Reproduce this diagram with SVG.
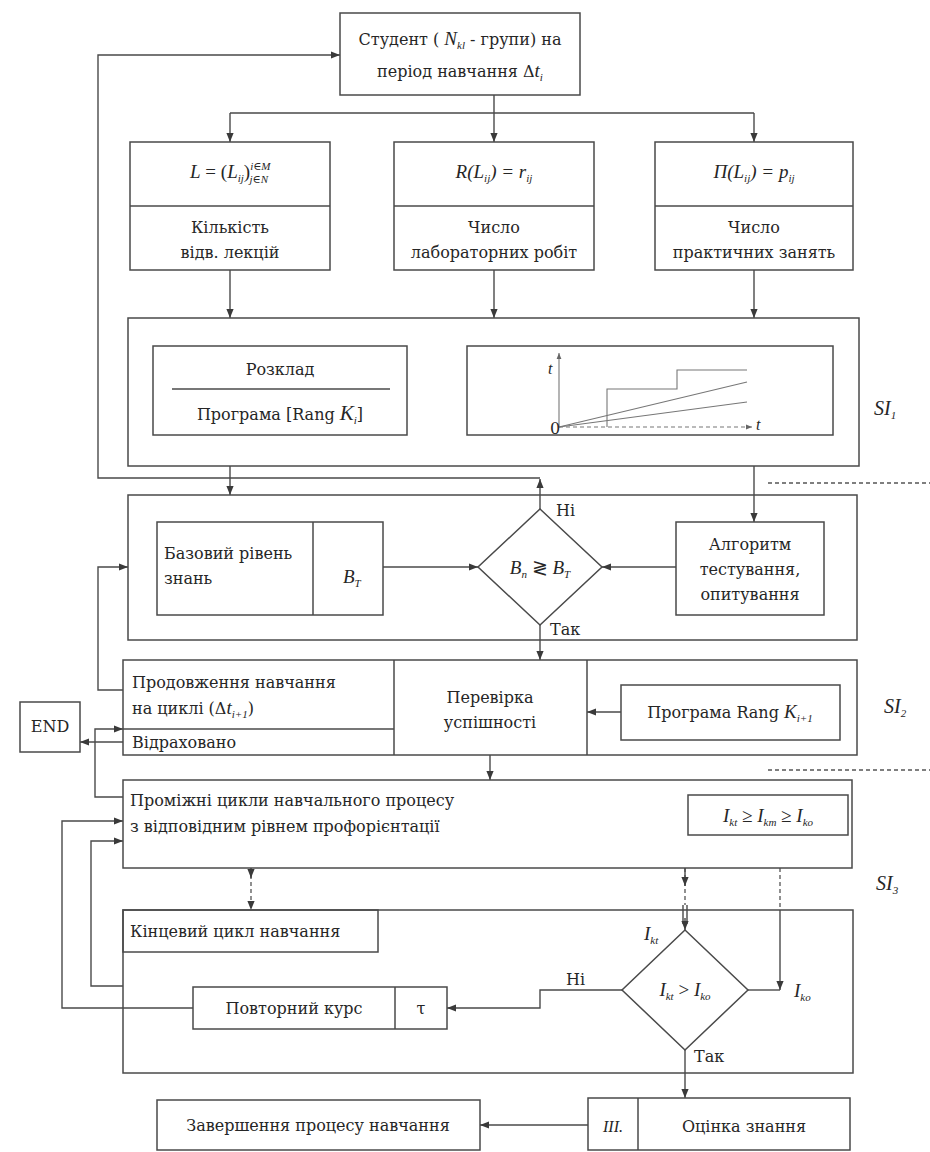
<svg xmlns="http://www.w3.org/2000/svg" width="930" height="1152" viewBox="0 0 930 1152">
<style>
text{font-family:"DejaVu Serif","Liberation Serif",serif;font-size:16px;fill:#262626}
.m,.i,.s,.si{font-family:"Liberation Serif","DejaVu Serif",serif}
.m{font-size:19px}
.i{font-style:italic}
.s{font-size:11px;font-style:italic}
.b{fill:none;stroke:#4a4a4a;stroke-width:1.5}
.c{fill:none;stroke:#4a4a4a;stroke-width:1.4}
.d{fill:none;stroke:#555;stroke-width:1.3;stroke-dasharray:4 3}
.th{fill:none;stroke:#777;stroke-width:1.1}
.si{font-size:20px;font-style:italic}
</style>
<defs>
<marker id="ah" viewBox="0 0 10 10" refX="10" refY="5" markerWidth="9" markerHeight="9" markerUnits="userSpaceOnUse" orient="auto"><path d="M0,1 L10,5 L0,9 z" fill="#3a3a3a"/></marker>
<marker id="as" viewBox="0 0 10 10" refX="10" refY="5" markerWidth="6" markerHeight="6" markerUnits="userSpaceOnUse" orient="auto"><path d="M0,1 L10,5 L0,9 z" fill="#666"/></marker>
</defs>
<rect width="930" height="1152" fill="#ffffff"/>

<g id="connectors">
<path class="c" d="M494,95 V113 M230,113 H754"/>
<path class="c" d="M230,113 V142" marker-end="url(#ah)"/>
<path class="c" d="M494,113 V142" marker-end="url(#ah)"/>
<path class="c" d="M754,113 V142" marker-end="url(#ah)"/>
<path class="c" d="M230,270 V318" marker-end="url(#ah)"/>
<path class="c" d="M494,270 V318" marker-end="url(#ah)"/>
<path class="c" d="M754,270 V318" marker-end="url(#ah)"/>
<path class="c" d="M540,509 V479" marker-end="url(#ah)"/>
<path class="c" d="M540,478 H98 V55 H340" marker-end="url(#ah)"/>
<path class="c" d="M230,466 V495" marker-end="url(#ah)"/>
<path class="c" d="M754,466 V522" marker-end="url(#ah)"/>
<path class="c" d="M383,567 H478" marker-end="url(#ah)"/>
<path class="c" d="M676,567 H602" marker-end="url(#ah)"/>
<path class="c" d="M540,625 V660" marker-end="url(#ah)"/>
<path class="c" d="M123,690 H98 V567 H128" marker-end="url(#ah)"/>
<path class="c" d="M621,712 H587" marker-end="url(#ah)"/>
<path class="c" d="M123,742 H80" marker-end="url(#ah)"/>
<path class="c" d="M123,797 H95 V729 H123" marker-end="url(#ah)"/>
<path class="c" d="M490,755 V780" marker-end="url(#ah)"/>
<path class="c" d="M193,1008 H62 V821 H123" marker-end="url(#ah)"/>
<path class="c" d="M123,986 H91 V841 H123" marker-end="url(#ah)"/>
<path class="d" d="M251,868 V910" marker-end="url(#ah)"/>
<path class="c" d="M251,868 V878" marker-end="url(#ah)"/>
<path class="d" d="M685,868 V905"/>
<path class="c" d="M685,868 V886" marker-end="url(#ah)"/>
<path class="c" d="M683,905 V924 M687,905 V924"/>
<path class="c" d="M685,918 V930" marker-end="url(#ah)"/>
<path class="d" d="M780,868 V910"/>
<path class="c" d="M780,910 V990" marker-end="url(#ah)"/>
<path class="c" d="M748,990 H780"/>
<path class="c" d="M622,990 H540 V1008 H447" marker-end="url(#ah)"/>
<path class="c" d="M685,1050 V1098" marker-end="url(#ah)"/>
<path class="c" d="M588,1125 H480" marker-end="url(#ah)"/>
<path class="d" d="M768,483 H930 M768,770 H930"/>
</g>

<g id="student">
<rect class="b" x="340" y="13" width="240" height="82"/>
<text x="460" y="45" text-anchor="middle">Студент ( <tspan class="i" font-size="19">N</tspan><tspan class="s" dy="4">kl</tspan><tspan dy="-4"> - групи) на</tspan></text>
<text x="460" y="77" text-anchor="middle">період навчання Δ<tspan class="i" font-size="19">t</tspan><tspan class="s" dy="4">i</tspan></text>
</g>

<g id="lectures">
<rect class="b" x="130" y="142" width="200" height="128"/>
<line class="b" x1="130" y1="206" x2="330" y2="206"/>
<text class="m" x="190" y="178"><tspan class="i">L</tspan> = (<tspan class="i">L</tspan><tspan class="s" dy="4">ij</tspan><tspan dy="-4">)</tspan><tspan class="s" dy="-8">i∈M</tspan><tspan class="s" dx="-21" dy="13">j∈N</tspan></text>
<text x="230" y="233" text-anchor="middle">Кількість</text>
<text x="230" y="258" text-anchor="middle">відв. лекцій</text>
</g>

<g id="labs">
<rect class="b" x="394" y="142" width="200" height="128"/>
<line class="b" x1="394" y1="206" x2="594" y2="206"/>
<text class="m i" x="494" y="178" text-anchor="middle">R(L<tspan class="s" dy="4">ij</tspan><tspan dy="-4">) = r</tspan><tspan class="s" dy="4">ij</tspan></text>
<text x="494" y="233" text-anchor="middle">Число</text>
<text x="494" y="258" text-anchor="middle">лабораторних робіт</text>
</g>

<g id="practice">
<rect class="b" x="655" y="142" width="198" height="128"/>
<line class="b" x1="655" y1="206" x2="853" y2="206"/>
<text class="m i" x="754" y="178" text-anchor="middle">П(L<tspan class="s" dy="4">ij</tspan><tspan dy="-4">) = p</tspan><tspan class="s" dy="4">ij</tspan></text>
<text x="754" y="233" text-anchor="middle">Число</text>
<text x="754" y="258" text-anchor="middle">практичних занять</text>
</g>

<g id="si1">
<rect class="b" x="128" y="318" width="731" height="148"/>
<rect class="b" x="153" y="346" width="254" height="89"/>
<text x="280" y="375" text-anchor="middle" font-size="19">Розклад</text>
<line class="b" x1="172" y1="389" x2="390" y2="389"/>
<text x="280" y="420" text-anchor="middle" font-size="19">Програма [Rang <tspan class="i" font-size="21">K</tspan><tspan class="s" dy="4">i</tspan><tspan dy="-4">]</tspan></text>
<rect class="b" x="467" y="346" width="366" height="89"/>
<line class="th" x1="559" y1="427" x2="559" y2="353" marker-end="url(#as)"/>
<line class="th" x1="559" y1="427" x2="752" y2="427" stroke-dasharray="4 3" marker-end="url(#as)"/>
<path class="th" d="M607,427 V389 H677 V370 H747"/>
<line class="th" x1="559" y1="427" x2="747" y2="382"/>
<line class="th" x1="559" y1="427" x2="747" y2="402"/>
<text x="548" y="374" font-size="8" class="i">t</text>
<text x="550" y="434" font-size="7">0</text>
<text x="756" y="430" font-size="7" class="i">t</text>
<text x="874" y="415" class="si">SI<tspan class="s" dy="4">1</tspan></text>
</g>

<g id="check1">
<rect class="b" x="128" y="495" width="729" height="145"/>
<rect class="b" x="157" y="522" width="226" height="93"/>
<line class="b" x1="313" y1="522" x2="313" y2="615"/>
<text x="164" y="559" font-size="15">Базовий рівень</text>
<text x="164" y="584" font-size="15">знань</text>
<text class="m i" x="343" y="583">B<tspan class="s" dy="4">T</tspan></text>
<path class="b" d="M540,509 L602,567 L540,625 L478,567 Z"/>
<text class="m i" x="540" y="574" text-anchor="middle">B<tspan class="s" dy="4">n</tspan><tspan dy="-4" font-style="normal"> ≷ </tspan>B<tspan class="s" dy="4">T</tspan></text>
<text x="556" y="516">Ні</text>
<text x="550" y="635">Так</text>
<rect class="b" x="676" y="522" width="148" height="93"/>
<text x="750" y="550" text-anchor="middle" font-size="15">Алгоритм</text>
<text x="750" y="575" text-anchor="middle" font-size="15">тестування,</text>
<text x="750" y="600" text-anchor="middle" font-size="15">опитування</text>
</g>

<g id="si2">
<rect class="b" x="123" y="660" width="734" height="95"/>
<line class="b" x1="394" y1="660" x2="394" y2="755"/>
<line class="b" x1="587" y1="660" x2="587" y2="755"/>
<line class="b" x1="123" y1="729" x2="394" y2="729"/>
<text x="132" y="688">Продовження навчання</text>
<text x="132" y="714">на циклі (Δ<tspan class="i" font-size="19">t</tspan><tspan class="s" dy="4">i+1</tspan><tspan dy="-4">)</tspan></text>
<text x="132" y="748">Відраховано</text>
<text x="490" y="703" text-anchor="middle">Перевірка</text>
<text x="490" y="728" text-anchor="middle">успішності</text>
<rect class="b" x="621" y="685" width="219" height="55"/>
<text x="730" y="718" text-anchor="middle">Програма Rang <tspan class="i" font-size="19">K</tspan><tspan class="s" dy="4">i+1</tspan></text>
<text x="884" y="713" class="si">SI<tspan class="s" dy="4">2</tspan></text>
</g>

<g id="end">
<rect class="b" x="20" y="702" width="60" height="50"/>
<text x="50" y="732" text-anchor="middle" font-size="15">END</text>
</g>

<g id="intermediate">
<rect class="b" x="123" y="780" width="729" height="88"/>
<text x="130" y="806">Проміжні цикли навчального процесу</text>
<text x="130" y="832">з відповідним рівнем профорієнтації</text>
<rect class="b" x="688" y="795" width="160" height="40"/>
<text class="m i" x="768" y="822" text-anchor="middle">I<tspan class="s" dy="4">kt</tspan><tspan dy="-4" font-style="normal"> ≥ </tspan>I<tspan class="s" dy="4">km</tspan><tspan dy="-4" font-style="normal"> ≥ </tspan>I<tspan class="s" dy="4">ko</tspan></text>
<text x="876" y="890" class="si">SI<tspan class="s" dy="4">3</tspan></text>
</g>

<g id="final">
<rect class="b" x="123" y="910" width="730" height="163"/>
<rect class="b" x="123" y="910" width="255" height="42"/>
<text x="130" y="937">Кінцевий цикл навчання</text>
<path class="b" d="M685,930 L748,990 L685,1050 L622,990 Z"/>
<text class="m i" x="685" y="996" text-anchor="middle">I<tspan class="s" dy="4">kt</tspan><tspan dy="-4" font-style="normal"> &gt; </tspan>I<tspan class="s" dy="4">ko</tspan></text>
<text class="m i" x="644" y="940">I<tspan class="s" dy="4">kt</tspan></text>
<text class="m i" x="794" y="997">I<tspan class="s" dy="4">ko</tspan></text>
<text x="566" y="985">Ні</text>
<text x="694" y="1062">Так</text>
<rect class="b" x="193" y="987" width="254" height="42"/>
<line class="b" x1="395" y1="987" x2="395" y2="1029"/>
<text x="294" y="1014" text-anchor="middle">Повторний курс</text>
<text x="421" y="1014" text-anchor="middle">τ</text>
</g>

<g id="assessment">
<rect class="b" x="588" y="1098" width="262" height="52"/>
<line class="b" x1="638" y1="1098" x2="638" y2="1150"/>
<text x="613" y="1132" text-anchor="middle" class="i">III.</text>
<text x="744" y="1132" text-anchor="middle">Оцінка знання</text>
</g>

<g id="completion">
<rect class="b" x="157" y="1100" width="323" height="50"/>
<text x="318" y="1131" text-anchor="middle">Завершення процесу навчання</text>
</g>
</svg>
